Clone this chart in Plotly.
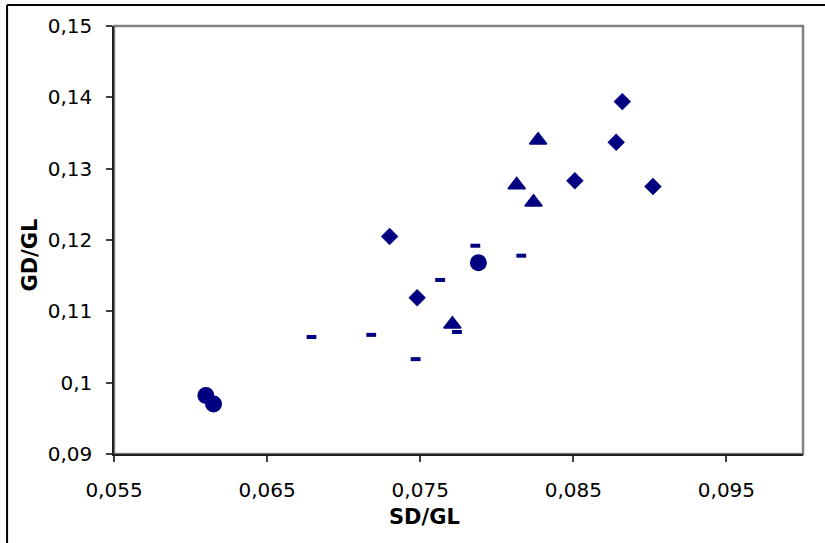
import plotly.graph_objects as go

# ---- data ----
diamond_x = [0.0882, 0.0878, 0.0851, 0.0902, 0.0730, 0.0748]
diamond_y = [0.1394, 0.1337, 0.1283, 0.1275, 0.1205, 0.1119]

triangle_x = [0.0827, 0.0813, 0.0824, 0.0771]
triangle_y = [0.1340, 0.1277, 0.1253, 0.1082]

circle_x = [0.0788, 0.0610, 0.0615]
circle_y = [0.1168, 0.0982, 0.0970]

dash_x = [0.0786, 0.0816, 0.0763, 0.0679, 0.0718, 0.0747, 0.0774]
dash_y = [0.1192, 0.1178, 0.1144, 0.1064, 0.1067, 0.1033, 0.1071]

x_tickvals = [0.055, 0.065, 0.075, 0.085, 0.095]
x_ticktext = ["0,055", "0,065", "0,075", "0,085", "0,095"]
y_tickvals = [0.09, 0.10, 0.11, 0.12, 0.13, 0.14, 0.15]
y_ticktext = ["0,09", "0,1", "0,11", "0,12", "0,13", "0,14", "0,15"]

x_title = "SD/GL"
y_title = "GD/GL"

NAVY = "#000080"
FONT = "DejaVu Sans"

fig = go.Figure()

fig.add_trace(go.Scatter(
    x=dash_x, y=dash_y, mode="markers",
    marker=dict(symbol="line-ew", size=7, color=NAVY,
                line=dict(color=NAVY, width=4)),
    showlegend=False, hoverinfo="x+y"))
fig.add_trace(go.Scatter(
    x=diamond_x, y=diamond_y, mode="markers",
    marker=dict(symbol="diamond", size=13, color=NAVY,
                line=dict(color=NAVY, width=0.5)),
    showlegend=False, hoverinfo="x+y"))
fig.add_trace(go.Scatter(
    x=triangle_x, y=triangle_y, mode="markers",
    marker=dict(symbol="triangle-up", size=15, color=NAVY,
                line=dict(color=NAVY, width=1.5)),
    showlegend=False, hoverinfo="x+y"))
fig.add_trace(go.Scatter(
    x=circle_x, y=circle_y, mode="markers",
    marker=dict(symbol="circle", size=17, color=NAVY,
                line=dict(color=NAVY, width=0)),
    showlegend=False, hoverinfo="x+y"))

L, R, T, B = 113.5, 22, 26, 89
W, H = 825, 543
pw, ph = W - L - R, H - T - B

def px(xp):
    return (xp - L) / pw

def py(yp):
    return (H - B - yp) / ph

fig.update_layout(
    width=W, height=H,
    margin=dict(l=L, r=R, t=T, b=B, pad=0),
    paper_bgcolor="white", plot_bgcolor="white",
    font=dict(family=FONT, size=20, color="black"),
    xaxis=dict(range=[0.055, 0.100], tickvals=x_tickvals, ticktext=x_ticktext,
               showgrid=False, zeroline=False, showline=True,
               linecolor="#202020", linewidth=1.5,
               ticks="outside", ticklen=6, tickcolor="#404040", tickwidth=1.5,
               ticklabelstandoff=11,
               tickfont=dict(family=FONT, size=20, color="black")),
    yaxis=dict(range=[0.09, 0.15], tickvals=y_tickvals, ticktext=y_ticktext,
               showgrid=False, zeroline=False, showline=True,
               linecolor="#202020", linewidth=1.5,
               ticks="outside", ticklen=6, tickcolor="#404040", tickwidth=1.5,
               ticklabelstandoff=10,
               tickfont=dict(family=FONT, size=20, color="black")),
    shapes=[
        # plot-area border (grey)
        dict(type="rect", xref="paper", yref="paper", x0=0, y0=0, x1=1, y1=1,
             line=dict(color="#808080", width=2.5), layer="below"),
        # outer chart frame (left and top visible)
        dict(type="line", xref="paper", yref="paper",
             x0=px(6.5), x1=px(6.5), y0=py(5), y1=py(H + 5),
             line=dict(color="black", width=2)),
        dict(type="line", xref="paper", yref="paper",
             x0=px(6.5), x1=px(W + 5), y0=py(5), y1=py(5),
             line=dict(color="black", width=2)),
    ],
    annotations=[
        dict(text=f"<b>{x_title}</b>", xref="paper", yref="paper",
             x=px(424), y=py(517), xanchor="center", yanchor="middle",
             showarrow=False, font=dict(family=FONT, size=21, color="black")),
        dict(text=f"<b>{y_title}</b>", xref="paper", yref="paper",
             x=px(29), y=py(255), xanchor="center", yanchor="middle",
             textangle=-90, showarrow=False,
             font=dict(family=FONT, size=21, color="black")),
    ],
)

fig.write_html("out.html", config={"displayModeBar": False},
               post_script="document.body.style.margin='0';")
